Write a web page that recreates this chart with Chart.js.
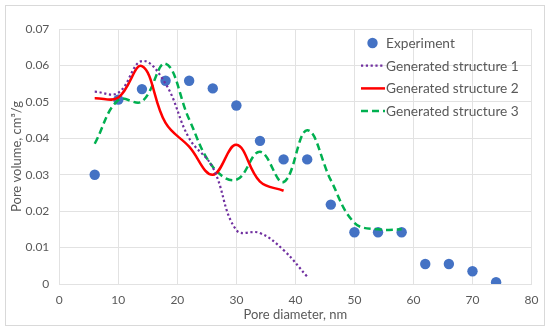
<!DOCTYPE html>
<html>
<head>
<meta charset="utf-8">
<script src="https://cdn.jsdelivr.net/npm/chart.js@4"></script>
<style>
  html, body { margin: 0; padding: 0; background: #fff; }
  #wrap { position: relative; width: 550px; height: 331px; }
  #frame { position: absolute; left: 5px; top: 5px; width: 538px; height: 319px; border: 1px solid #d9d9d9; pointer-events: none; }
</style>
</head>
<body>
<div id="wrap">
  <canvas id="poreChart" width="550" height="331"></canvas>
  <div id="frame"></div>
</div>
<script>
// Experiment data
const expDiam = [6, 10, 14, 18, 22, 26, 30, 34, 38, 42, 46, 50, 54, 58, 62, 66, 70, 74];
const expVol = [0.030, 0.0506, 0.0535, 0.0558, 0.0558, 0.0537, 0.049, 0.0393, 0.0342, 0.0342, 0.0218, 0.0142, 0.0142, 0.0142, 0.0055, 0.0055, 0.0035, 0.0005];

// Generated structures
const gen1Diam = [6, 10, 14, 18, 22, 26, 30, 34, 38, 42];
const gen1Vol = [0.0528, 0.0525, 0.0612, 0.055, 0.040, 0.032, 0.0148, 0.014, 0.0093, 0.002];

const gen2Diam = [6, 10, 14, 18, 22, 26, 30, 34, 38];
const gen2Vol = [0.051, 0.0512, 0.0598, 0.0442, 0.0377, 0.030, 0.0382, 0.0281, 0.0256];

const gen3Diam = [6, 10, 14, 18, 22, 26, 30, 34, 38, 42, 46, 50, 54, 58];
const gen3Vol = [0.0385, 0.0505, 0.0501, 0.0605, 0.0452, 0.0322, 0.0286, 0.0363, 0.028, 0.0422, 0.0285, 0.0168, 0.015, 0.015];

// Axis ticks
const xTicks = { min: 0, max: 80, step: 10 };
const yTicks = { min: 0, max: 0.07, step: 0.01 };

const toPoints = (xs, ys) => xs.map((x, i) => ({ x: x, y: ys[i] }));

const TEXT_COLOR = '#595959';
const GRID_COLOR = '#e2e2e2';
const FONT = 'Lato, "Open Sans", sans-serif';

// legend drawn inside the plot, like the original
const insideLegend = {
    id: 'insideLegend',
    afterDraw(chart) {
        const ctx = chart.ctx;
        const x0 = 361, xText = 386, y0 = 43, rowH = 22.7;
        ctx.save();
        ctx.font = '13.7px ' + FONT;
        ctx.textBaseline = 'middle';
        ctx.textAlign = 'left';
        chart.data.datasets.forEach((ds, i) => {
            const y = y0 + i * rowH;
            if (ds.showLine === false) {
                ctx.beginPath();
                ctx.fillStyle = ds.backgroundColor;
                ctx.arc(372.5, y, 5.2, 0, Math.PI * 2);
                ctx.fill();
            } else {
                ctx.beginPath();
                ctx.strokeStyle = ds.borderColor;
                ctx.lineWidth = ds.borderWidth;
                ctx.setLineDash(ds.borderDash || []);
                ctx.moveTo(x0, y);
                ctx.lineTo(xText - 1, y);
                ctx.stroke();
                ctx.setLineDash([]);
            }
            ctx.fillStyle = TEXT_COLOR;
            ctx.fillText(ds.label, xText, y + 0.5);
        });
        ctx.restore();
    }
};

const ctx = document.getElementById('poreChart');
new Chart(ctx, {
    type: 'scatter',
    data: {
        datasets: [
            {
                label: 'Experiment',
                data: toPoints(expDiam, expVol),
                showLine: false,
                backgroundColor: '#4472C4',
                borderColor: '#4472C4',
                pointRadius: 5.2,
                pointBorderWidth: 0,
                order: 1
            },
            {
                label: 'Generated structure 1',
                data: toPoints(gen1Diam, gen1Vol),
                showLine: true,
                borderColor: '#7030A0',
                backgroundColor: '#7030A0',
                borderWidth: 2.2,
                borderDash: [2.2, 2.6],
                pointRadius: 0,
                tension: 0.4,
                order: 0
            },
            {
                label: 'Generated structure 2',
                data: toPoints(gen2Diam, gen2Vol),
                showLine: true,
                borderColor: '#FF0000',
                backgroundColor: '#FF0000',
                borderWidth: 2.5,
                pointRadius: 0,
                tension: 0.4,
                order: 0
            },
            {
                label: 'Generated structure 3',
                data: toPoints(gen3Diam, gen3Vol),
                showLine: true,
                borderColor: '#00B050',
                backgroundColor: '#00B050',
                borderWidth: 2.5,
                borderDash: [7, 4],
                pointRadius: 0,
                tension: 0.4,
                order: 0
            }
        ]
    },
    options: {
        responsive: false,
        animation: false,
        layout: { padding: { left: 0, top: 29, right: 18.5, bottom: 0 } },
        plugins: {
            legend: { display: false },
            tooltip: { enabled: false }
        },
        scales: {
            x: {
                type: 'linear',
                min: xTicks.min,
                max: xTicks.max,
                ticks: { stepSize: xTicks.step, color: TEXT_COLOR, font: { family: FONT, size: 12 }, padding: 9 },
                grid: { color: GRID_COLOR, drawTicks: false },
                border: { color: GRID_COLOR },
                title: { display: true, text: 'Pore diameter, nm', color: TEXT_COLOR, font: { family: FONT, size: 13 }, padding: { top: 0, bottom: 8 } },
                afterFit: (scale) => { scale.height = 47; }
            },
            y: {
                min: yTicks.min,
                max: yTicks.max,
                ticks: { stepSize: yTicks.step, color: TEXT_COLOR, font: { family: FONT, size: 12 }, padding: 10 },
                grid: { color: GRID_COLOR, drawTicks: false },
                border: { color: GRID_COLOR },
                title: { display: true, text: 'Pore volume, cm³/g', color: TEXT_COLOR, font: { family: FONT, size: 13 }, padding: { top: 9, bottom: 0 } },
                afterFit: (scale) => { scale.width = 59.3; }
            }
        }
    },
    plugins: [insideLegend]
});
</script>
</body>
</html>
